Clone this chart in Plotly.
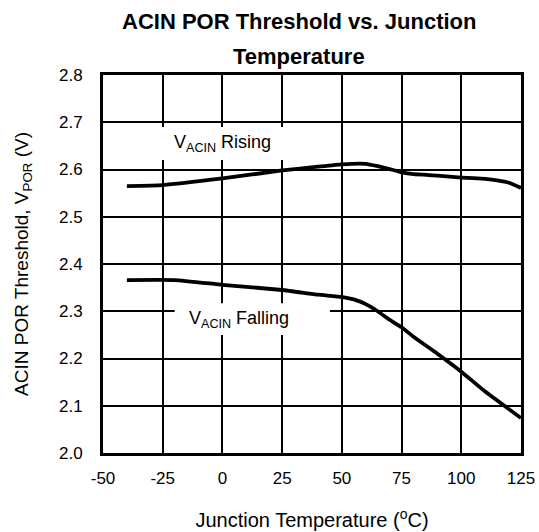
import plotly.graph_objects as go

# Junction temperature (degC) and POR threshold (V)
temp_rising = [-40, -25, 0, 25, 40, 50, 60, 65, 70, 75, 80, 90, 100, 110, 115, 120, 125]
vpor_rising = [2.565, 2.567, 2.581, 2.598, 2.606, 2.611, 2.612, 2.607, 2.601, 2.594, 2.590, 2.587, 2.583, 2.580, 2.577, 2.572, 2.561]

temp_falling = [-40, -20, 0, 25, 40, 50, 55, 60, 65, 70, 75, 80, 90, 100, 110, 125]
vpor_falling = [2.366, 2.366, 2.356, 2.345, 2.335, 2.330, 2.325, 2.315, 2.300, 2.282, 2.266, 2.246, 2.210, 2.172, 2.130, 2.074]

x_ticks = [-50, -25, 0, 25, 50, 75, 100, 125]
x_labels = ['-50', '-25', '0', '25', '50', '75', '100', '125']
y_ticks = [2.0, 2.1, 2.2, 2.3, 2.4, 2.5, 2.6, 2.7, 2.8]

FONT = "Liberation Sans, Arial, sans-serif"

fig = go.Figure()

fig.add_trace(go.Scatter(x=temp_rising, y=vpor_rising, mode='lines',
                         line=dict(color='black', width=3.8, shape='spline', smoothing=0.4),
                         name='VACIN Rising', showlegend=False))
fig.add_trace(go.Scatter(x=temp_falling, y=vpor_falling, mode='lines',
                         line=dict(color='black', width=3.8, shape='spline', smoothing=0.4),
                         name='VACIN Falling', showlegend=False))

# white boxes behind the labels hide the gridlines
fig.add_shape(type='rect', x0=-28, x1=28, y0=2.62, y1=2.69, layer='between',
              fillcolor='white', line=dict(width=0))
fig.add_shape(type='rect', x0=-20, x1=45, y0=2.25, y1=2.317, layer='between',
              fillcolor='white', line=dict(width=0))

fig.add_annotation(x=0, y=2.655, text='V<sub>ACIN</sub> Rising', showarrow=False,
                   font=dict(family=FONT, size=18, color='black'))
fig.add_annotation(x=7, y=2.283, text='V<sub>ACIN</sub> Falling', showarrow=False,
                   font=dict(family=FONT, size=18, color='black'))

# two-line title with wide line gap
fig.add_annotation(xref='paper', yref='paper', x=0.47, y=1.141, yanchor='middle',
                   text='<b>ACIN POR Threshold vs. Junction</b>', showarrow=False,
                   font=dict(family=FONT, size=22, color='black'))
fig.add_annotation(xref='paper', yref='paper', x=0.47, y=1.048, yanchor='middle',
                   text='<b>Temperature</b>', showarrow=False,
                   font=dict(family=FONT, size=22, color='black'))

fig.update_layout(
    width=539, height=532,
    margin=dict(l=103, r=18, t=75, b=79),
    plot_bgcolor='white',
    paper_bgcolor='white',
    font=dict(family=FONT, color='black', size=17),
    xaxis=dict(range=[-50, 125], tickvals=x_ticks, ticktext=x_labels, ticks='', showgrid=True,
               gridcolor='black', gridwidth=1.5, zeroline=False, automargin=False,
               showline=True, linecolor='black', linewidth=3, mirror=True,
               ticklabelstandoff=8,
               title=dict(text='Junction Temperature (<sup>o</sup>C)', font=dict(size=20), standoff=26)),
    yaxis=dict(range=[2.0, 2.8], tickvals=y_ticks, tickformat='.1f', ticks='', showgrid=True,
               gridcolor='black', gridwidth=1.5, zeroline=False, automargin=False,
               showline=True, linecolor='black', linewidth=3, mirror=True,
               ticklabelstandoff=14,
               title=dict(text='ACIN POR Threshold, V<sub>POR</sub> (V)', font=dict(size=19), standoff=26)),
)

fig.write_html("out.html", config={'displayModeBar': False},
               post_script="document.body.style.margin='0';")
